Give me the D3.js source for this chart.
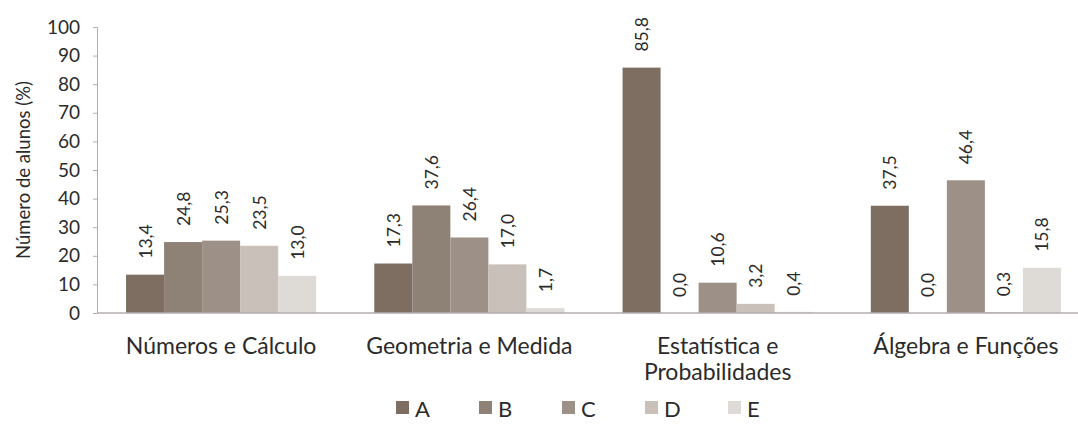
<!DOCTYPE html>
<html>
<head>
<meta charset="utf-8">
<script src="https://cdn.jsdelivr.net/npm/d3@7"></script>
<style>
  html, body { margin: 0; padding: 0; background: #fff; }
  svg { display: block; }
  text { font-family: Lato, "Open Sans", sans-serif; fill: #2b2b2b; }
</style>
</head>
<body>
<svg id="chart" width="1078" height="424"></svg>
<script>
// Domains (themes) and answer options
const categories = [["Números e Cálculo"], ["Geometria e Medida"], ["Estatística e", "Probabilidades"], ["Álgebra e Funções"]];
const series = ["A", "B", "C", "D", "E"];
// Percentage of students per option, one array per series
const valuesA = [13.4, 17.3, 85.8, 37.5];
const valuesB = [24.8, 37.6, 0.0, 0.0];
const valuesC = [25.3, 26.4, 10.6, 46.4];
const valuesD = [23.5, 17.0, 3.2, 0.3];
const valuesE = [13.0, 1.7, 0.4, 15.8];
const yTicks = [0, 10, 20, 30, 40, 50, 60, 70, 80, 90, 100];
const yTitle = "Número de alunos (%)";

const seriesValues = [valuesA, valuesB, valuesC, valuesD, valuesE];
const colors = ["#7d6e61", "#8e8175", "#9d9086", "#c8c0b9", "#dedad6"];

const svg = d3.select("#chart");
const catKeys = categories.map(c => c.join(" "));

const x0 = d3.scaleBand().domain(catKeys).range([97, 1090]).paddingInner(0.234).paddingOuter(0.117);
const x1 = d3.scaleBand().domain(series).range([0, x0.bandwidth()]);
const y = d3.scaleLinear().domain([0, 100]).range([313, 27]);

const fmt = v => v.toFixed(1).replace(".", ",");

// Y axis
const yAxis = svg.append("g").attr("transform", "translate(97,0)")
  .call(d3.axisLeft(y).tickValues(yTicks).tickSize(4).tickPadding(13));
yAxis.select(".domain").attr("stroke", "#b3adb0");
yAxis.selectAll(".tick line").attr("stroke", "#b3adb0");
yAxis.selectAll(".tick text").style("font-size", "19px").attr("fill", "#2b2b2b");

// Bars
const groups = svg.append("g").selectAll("g")
  .data(catKeys).join("g")
  .attr("transform", d => `translate(${x0(d)},0)`);

groups.each(function(cat, ci) {
  const g = d3.select(this);
  const rows = series.map((s, si) => ({ s, si, v: seriesValues[si][ci] }));
  g.selectAll("rect").data(rows).join("rect")
    .attr("x", d => x1(d.s))
    .attr("width", x1.bandwidth())
    .attr("y", d => y(d.v))
    .attr("height", d => y(0) - y(d.v))
    .attr("fill", d => colors[d.si]);
  g.selectAll("text.val").data(rows).join("text")
    .attr("class", "val")
    .attr("transform", d => `translate(${x1(d.s) + x1.bandwidth() / 2},${y(d.v) - 16}) rotate(-90)`)
    .attr("dominant-baseline", "central")
    .style("font-size", "17.5px")
    .text(d => fmt(d.v));
});

// X axis baseline
svg.append("line")
  .attr("x1", 97).attr("x2", 1090)
  .attr("y1", y(0)).attr("y2", y(0))
  .attr("stroke", "#b3adb0").attr("stroke-width", 1.5);

// Category labels
categories.forEach((lines, i) => {
  const t = svg.append("text")
    .attr("text-anchor", "middle")
    .style("font-size", "23px");
  lines.forEach((ln, li) => {
    t.append("tspan")
      .attr("x", x0(catKeys[i]) + x0.bandwidth() / 2)
      .attr("y", 354 + li * 26)
      .text(ln);
  });
});

// Y title
svg.append("text")
  .attr("transform", "translate(23,170) rotate(-90)")
  .attr("text-anchor", "middle")
  .attr("dominant-baseline", "central")
  .style("font-size", "18.5px")
  .text(yTitle);

// Legend
const legend = svg.append("g").selectAll("g")
  .data(series).join("g")
  .attr("transform", (d, i) => `translate(${396 + i * 83},401)`);
legend.append("rect").attr("width", 13).attr("height", 13)
  .attr("fill", (d, i) => colors[i]);
legend.append("text").attr("x", 19).attr("y", 7)
  .attr("dominant-baseline", "central")
  .style("font-size", "22px")
  .text(d => d);
</script>
</body>
</html>
